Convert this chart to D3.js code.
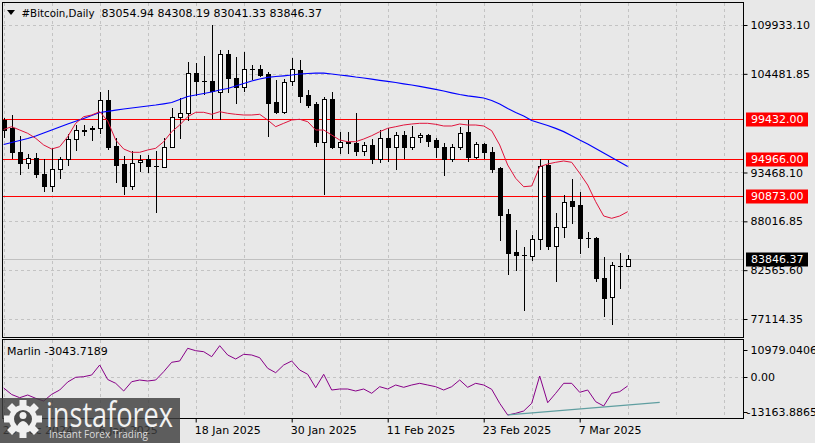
<!DOCTYPE html>
<html><head><meta charset="utf-8">
<script src="https://cdn.jsdelivr.net/npm/d3@7/dist/d3.min.js"></script>
<style>
body{margin:0;background:#e8e8e8;}
svg{display:block;font-family:"DejaVu Sans",Verdana,sans-serif;}
</style>
</head><body>
<svg id="c" width="815" height="443"></svg>
<script>
const symbolTitle = "#Bitcoin,Daily";
const headerValues = "83054.94 84308.19 83041.33 83846.37";
const startDate = "2024-12-25";
const openP  = [99328,98402,95790,94495,95053,93267,91994,93825,94941,97174,98212,98402,98402,101527,96426,94416,91994,94606,94941,94249,94115,96348,99629,100076,104541,103737,103715,102487,106662,103983,102978,105021,105021,104430,101304,100188,103682,104910,102119,101114,96906,101639,96348,96906,96794,95901,96537,94975,97285,96281,97654,96348,97464,97654,97096,96281,94975,96281,97955,95231,96615,95722,93936,88835,84560,84280,84180,86011,94305,85296,87417,90320,89840,86211,86122,81724,79536,83030,83054.94];
const highP  = [99551,99886,97542,95499,95678,94941,96169,95231,97765,98770,98770,98658,102487,102677,97285,95309,95868,95421,95421,95868,97352,100634,101751,105836,105725,106506,109933,107142,107142,106394,106952,105468,105468,104720,103793,103905,106283,106026,102677,101304,101929,102420,98022,98022,100076,96906,97207,98212,98402,98022,98100,98658,97910,97765,97285,96794,96615,98580,99328,96906,96727,96348,94050,89393,87049,85185,86491,94941,94863,88913,90956,92709,91324,86792,86301,84068,83510,84515,84308.19];
const lowP   = [97430,95053,93267,94003,92999,91436,91436,92820,94305,95979,97654,97096,97844,96091,92441,91068,91626,93635,93557,89025,94048,96315,97285,99328,102119,102231,99518,99440,102420,101192,102599,103905,104240,97576,100076,100076,103235,101371,100813,96459,91068,96169,95678,95611,95421,95421,94495,94673,94751,93858,95120,96091,96839,96459,95164,93188,94785,96091,94785,95120,95053,93490,85933,82137,82584,78118,83700,84928,84894,81389,86301,87797,84515,85118,81356,77449,76522,80541,83041.33];
const closeP = [98212,95722,94495,95053,93267,91994,93825,94941,97174,98178,98156,98368,101527,96348,94338,91994,94495,94863,94227,94205,96348,99663,100076,104541,103715,103693,102565,106662,103983,103045,104988,104988,104351,101259,100188,103604,104988,102041,101003,96906,101639,96281,96839,96727,95901,96537,94975,97285,96281,97654,96348,97430,97654,97017,96348,94975,96281,97910,95231,96615,95722,93858,88723,84515,84258,84236,86011,94193,85263,87417,90208,89761,86189,86167,81724,79491,83142,83075,83846.37];
const fastMA = [98268,98581,98212,97844,97286,96538,96091,96348,97464,98960,99697,99887,100255,99217,97096,96091,95723,95723,95979,96169,96906,98023,98770,99697,100188,100188,99965,100255,100076,99965,99887,99887,99965,99328,98581,98960,99328,99407,99139,98212,98212,97654,97096,96906,96906,97207,97576,98023,98402,98581,98770,98882,98960,98960,98849,98659,98659,98882,98770,98770,98659,98134,96538,94305,92820,91883,91961,94115,94417,94606,94752,94606,93379,92072,90209,88612,88355,88612,89092];
const slowMA = [96593,96817,97040,97263,97542,97877,98212,98547,98882,99183,99496,99831,100166,100300,100422,100556,100668,100780,100891,101003,101137,101282,101617,101952,102119,102287,102454,102677,102845,103124,103403,103682,103905,104095,104184,104262,104352,104463,104519,104553,104553,104463,104352,104262,104128,104017,103883,103760,103648,103515,103369,103235,103090,102923,102755,102566,102365,102175,102030,101918,101784,101506,101114,100612,100166,99775,99273,98994,98714,98391,98034,97576,97096,96649,96147,95645,95142,94640,94138];
const marlin = [-3758,-6023,-7138,-6197,-7347,-8287,-5953,-4455,-1668,-30,179,771,4255,-797,-2121,-4803,-1563,-971,-1319,-971,1921,5196,5649,10073,9237,8889,7147,10979.0406,7739,6345,7983,7739,6798,3105,1572,4255,5649,2513,1015,-3654,1015,-4455,-4106,-4106,-4803,-4106,-5605,-3305,-4106,-2713,-3514,-2713,-2121,-2713,-3305,-4455,-3305,-971,-3514,-2121,-2713,-4211,-9089,-13163.8865,-12573,-11771,-9089,423,-8880,-5605,-2121,-2121,-5256,-4455,-8531,-10029,-5605,-5047,-3043.7189];
const marlinLabel = "Marlin -3043.7189";
const priceTicks = [109933.10,104481.85,93468.10,88016.85,82565.60,77114.35];
const levelLines = [99432.00,94966.00,90873.00];
const lastPrice = 83846.37;
const marlinTicks = [10979.0406,0,-13163.8865];
const dateTicks = ["2024-12-25","2025-01-06","2025-01-18","2025-01-30","2025-02-11","2025-02-23","2025-03-07"];
const trendDates = ["2025-02-26","2025-03-17"];
const trendValues = [-13163.8865,-8741];

const parse = d3.utcParse("%Y-%m-%d");
const start = parse(startDate);
const dates = openP.map((_, i) => d3.utcDay.offset(start, i));
const data = dates.map((d, i) => ({date: d, o: openP[i], h: highP[i], l: lowP[i], c: closeP[i], f: fastMA[i], s: slowMA[i], m: marlin[i]}));

const svg = d3.select("#c");
const L = 2.5, R = 743.5, T = 2.5, B = 337.5, ST = 339.5, SB = 418.5;

const x = d3.scaleUtc().domain([start, dates[dates.length - 1]]).range([3.7, 627.7]);
const y = d3.scaleLinear().domain([77114.35, 109933.10]).range([319, 25]);
const ym = d3.scaleLinear().domain([-13163.8865, 10979.0406]).range([415, 345.7]);

svg.append("rect").attr("width", 815).attr("height", 443).attr("fill", "#e8e8e8");

const defs = svg.append("defs");
defs.append("clipPath").attr("id", "mainClip").append("rect").attr("x", L + 0.5).attr("y", T + 0.5).attr("width", R - L - 1).attr("height", B - T - 1);
defs.append("clipPath").attr("id", "subClip").append("rect").attr("x", L + 0.5).attr("y", ST + 0.5).attr("width", R - L - 1).attr("height", SB - ST - 1);

const gridColor = "#c3c3c3";
const gridDates = d3.range(0, 16).map(k => d3.utcDay.offset(start, 6 * k));
const gv = svg.append("g").attr("stroke", gridColor).attr("stroke-dasharray", "3,3").attr("shape-rendering", "crispEdges");
gridDates.forEach(d => {
  const px = Math.round(x(d)) + 0.5;
  if (px <= L + 1 || px >= R) return;
  gv.append("line").attr("x1", px).attr("x2", px).attr("y1", T).attr("y2", B);
  gv.append("line").attr("x1", px).attr("x2", px).attr("y1", ST).attr("y2", SB);
});
priceTicks.forEach(v => {
  const py = Math.round(y(v)) + 0.5;
  gv.append("line").attr("x1", L).attr("x2", R).attr("y1", py).attr("y2", py);
});
gv.append("line").attr("x1", L).attr("x2", R).attr("y1", Math.round(ym(0)) + 0.5).attr("y2", Math.round(ym(0)) + 0.5);

const main = svg.append("g").attr("clip-path", "url(#mainClip)");
main.append("line").attr("x1", L).attr("x2", R).attr("y1", Math.round(y(lastPrice)) + 0.5).attr("y2", Math.round(y(lastPrice)) + 0.5)
  .attr("stroke", "#c0c0c0").attr("shape-rendering", "crispEdges");
levelLines.forEach(v => {
  main.append("line").attr("x1", L).attr("x2", R).attr("y1", Math.round(y(v)) + 0.5).attr("y2", Math.round(y(v)) + 0.5)
    .attr("stroke", "#ff0000").attr("stroke-width", 1.2).attr("shape-rendering", "crispEdges");
});

const cg = main.append("g").attr("shape-rendering", "crispEdges");
data.forEach(d => {
  const px = Math.round(x(d.date));
  cg.append("line").attr("x1", px + 0.5).attr("x2", px + 0.5).attr("y1", Math.round(y(d.h))).attr("y2", Math.round(y(d.l)) + 1).attr("stroke", "#000");
  const yt = Math.round(y(Math.max(d.o, d.c))), yb = Math.round(y(Math.min(d.o, d.c)));
  if (yb - yt < 1) {
    cg.append("line").attr("x1", px - 2).attr("x2", px + 3).attr("y1", yt + 0.5).attr("y2", yt + 0.5).attr("stroke", "#000");
  } else {
    cg.append("rect").attr("x", px - 1.5).attr("y", yt + 0.5).attr("width", 4).attr("height", yb - yt)
      .attr("fill", d.c >= d.o ? "#ffffff" : "#000000").attr("stroke", "#000");
  }
});

const lineF = d3.line().x(d => x(d.date)).y(d => y(d.f));
const lineS = d3.line().x(d => x(d.date)).y(d => y(d.s));
main.append("path").datum(data).attr("d", lineS).attr("fill", "none").attr("stroke", "#0000ff").attr("stroke-width", 1.2);
main.append("path").datum(data).attr("d", lineF).attr("fill", "none").attr("stroke", "#e0143c").attr("stroke-width", 1);

const sub = svg.append("g").attr("clip-path", "url(#subClip)");
sub.append("path").datum(data).attr("d", d3.line().x(d => x(d.date)).y(d => ym(d.m)))
  .attr("fill", "none").attr("stroke", "#880088").attr("stroke-width", 1);
sub.append("line").attr("x1", x(parse(trendDates[0]))).attr("y1", ym(trendValues[0]))
  .attr("x2", x(parse(trendDates[1]))).attr("y2", ym(trendValues[1])).attr("stroke", "#5f9ea0").attr("stroke-width", 1.2);

svg.append("rect").attr("x", L).attr("y", T).attr("width", R - L).attr("height", B - T).attr("fill", "none").attr("stroke", "#000").attr("shape-rendering", "crispEdges");
svg.append("rect").attr("x", L).attr("y", ST).attr("width", R - L).attr("height", SB - ST).attr("fill", "none").attr("stroke", "#000").attr("shape-rendering", "crispEdges");

const ya = svg.append("g").attr("transform", `translate(${R},0)`)
  .call(d3.axisRight(y).tickValues(priceTicks).tickFormat(d3.format(".2f")).tickSize(4).tickPadding(3));
ya.select(".domain").remove();
ya.selectAll("text").attr("font-size", 11).attr("font-family", "DejaVu Sans").attr("fill", "#000");
ya.selectAll("line").attr("stroke", "#000");

function priceBox(v, bg) {
  const py = Math.round(y(v)) + 0.5;
  const g = svg.append("g");
  g.append("rect").attr("x", 746).attr("y", py - 7).attr("width", 62).attr("height", 14).attr("fill", bg);
  g.append("text").attr("x", 751).attr("y", py).attr("dy", "0.36em").attr("font-size", 11).attr("fill", "#fff").text(d3.format(".2f")(v));
}
levelLines.forEach(v => priceBox(v, "#ff0000"));
priceBox(lastPrice, "#000000");

const ma = svg.append("g").attr("transform", `translate(${R},0)`)
  .call(d3.axisRight(ym).tickValues(marlinTicks).tickFormat(d => d === 0 ? "0.00" : d.toFixed(4)).tickSize(4).tickPadding(3));
ma.select(".domain").remove();
ma.selectAll(".tick").attr("transform", d => d === marlinTicks[0] ? "translate(0,350.5)" : d === marlinTicks[2] ? "translate(0,412.5)" : `translate(0,${Math.round(ym(d)) + 0.5})`);
ma.selectAll("text").attr("font-size", 11).attr("font-family", "DejaVu Sans").attr("fill", "#000").attr("x", d => d < 0 ? 3 : 7);
ma.selectAll("line").attr("stroke", "#000");

const xa = svg.append("g").attr("transform", `translate(0,${SB})`)
  .call(d3.axisBottom(x).tickValues(dateTicks.map(parse)).tickFormat(d3.utcFormat("%-d %b %Y")).tickSize(4));
xa.select(".domain").remove();
xa.selectAll("text").attr("font-size", 11).attr("font-family", "DejaVu Sans").attr("fill", "#000")
  .attr("text-anchor", "start").attr("dy", 0).attr("y", 15.5).attr("x", -1.5);
xa.selectAll("line").attr("stroke", "#000");

svg.append("path").attr("d", "M7,10 L15,10 L11,15 Z").attr("fill", "#000");
svg.append("text").attr("x", 21.5).attr("y", 16.5).attr("font-size", 11).attr("textLength", 73).attr("lengthAdjust", "spacingAndGlyphs").text(symbolTitle);
svg.append("text").attr("x", 101.5).attr("y", 16.5).attr("font-size", 11).text(headerValues);
svg.append("text").attr("x", 7).attr("y", 355).attr("font-size", 11).text(marlinLabel);

const wm = svg.append("g");
wm.append("rect").attr("x", 0).attr("y", 398).attr("width", 180).attr("height", 45).attr("fill", "#3e3e3e").attr("opacity", 0.82);
const gear = wm.append("g").attr("transform", "translate(23,419)").attr("fill", "#f0f0f0");
d3.range(8).forEach(k => {
  gear.append("rect").attr("x", -3.5).attr("y", -19).attr("width", 7).attr("height", 8).attr("transform", `rotate(${k * 45})`);
});
gear.append("circle").attr("r", 14);
gear.append("circle").attr("r", 9).attr("fill", "#4a4a4a");
gear.append("circle").attr("cy", -3.5).attr("r", 3.5).attr("fill", "#f0f0f0");
gear.append("path").attr("d", "M-7,9 Q0,-5 7,9 Z").attr("fill", "#f0f0f0");
wm.append("text").attr("x", 46).attr("y", 426.5).attr("font-family", "Open Sans, sans-serif").attr("font-size", 34)
  .attr("fill", "#f2f2f2").attr("textLength", 127).attr("lengthAdjust", "spacingAndGlyphs").text("instaforex");
wm.append("text").attr("x", 49).attr("y", 437.5).attr("font-family", "Open Sans, sans-serif").attr("font-size", 11.5)
  .attr("fill", "#dcdcdc").attr("textLength", 99).attr("lengthAdjust", "spacingAndGlyphs").text("Instant Forex Trading");
</script>
</body></html>
